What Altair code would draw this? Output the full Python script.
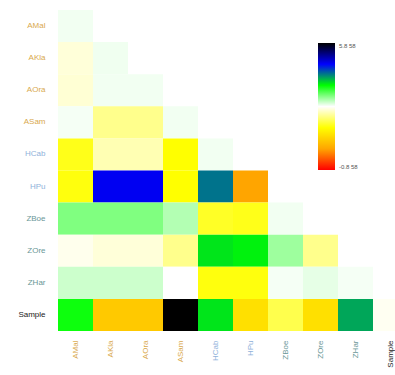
import altair as alt
import pandas as pd

# Taxa / sample names along both axes
labels = ["AMal", "AKla", "AOra", "ASam", "HCab", "HPu", "ZBoe", "ZOre", "ZHar", "Sample"]

# Lower-triangle association scores, one list per row (columns 0..row)
row_amal = [0.05]
row_akla = [-0.15, 0.06]
row_aora = [-0.17, 0.05, 0.05]
row_asam = [0.04, -0.45, -0.45, 0.05]
row_hcab = [-0.9, -0.3, -0.3, -1.0, 0.05]
row_hpu = [-0.95, 2.05, 2.05, -1.0, 1.55, -2.0]
row_zboe = [0.5, 0.5, 0.5, 0.3, -0.85, -0.9, 0.05]
row_zore = [-0.07, -0.15, -0.15, -0.45, 1.1, 1.05, 0.38, -0.45]
row_zhar = [0.2, 0.2, 0.2, 0.0, -0.95, -0.95, 0.04, 0.1, 0.04]
row_sample = [0.95, -1.6, -1.6, 3.0, 1.1, -1.35, -0.7, -1.35, 1.35, -0.05]

rows = [row_amal, row_akla, row_aora, row_asam, row_hcab,
        row_hpu, row_zboe, row_zore, row_zhar, row_sample]

# Colour bar end labels
legend_max_text = "5.8 58"
legend_min_text = "-0.8 58"

records = []
for r, vals in enumerate(rows):
    for c, v in enumerate(vals):
        records.append({"row": labels[r], "col": labels[c], "value": v})
df = pd.DataFrame(records)

stops = [-3, -2, -1, 0, 1, 2, 3]
stop_colors = ["#ff0000", "#ffa500", "#ffff00", "#ffffff", "#00ff00", "#0000ff", "#000000"]

# Label colour by group prefix (A*, H*, Z*, Sample)
prefix = "substring(datum.value, 0, 1)"
label_color = {
    "condition": [
        {"test": f"{prefix} == 'A'", "value": "#d9a94e"},
        {"test": f"{prefix} == 'H'", "value": "#8fb2da"},
        {"test": f"{prefix} == 'Z'", "value": "#6a9797"},
    ],
    "value": "#222222",
}

chart = alt.Chart(df).mark_rect().encode(
    x=alt.X(
        "col:N",
        sort=labels,
        scale=alt.Scale(domain=labels, range=[0, 350], paddingInner=0, paddingOuter=0),
        axis=alt.Axis(
            title=None, labelAngle=270, labelFontSize=8, labelPadding=9,
            ticks=False, domain=False, labelColor=label_color,
            labelFont="Liberation Sans",
        ),
    ),
    y=alt.Y(
        "row:N",
        sort=labels,
        scale=alt.Scale(domain=labels, paddingInner=0, paddingOuter=0),
        axis=alt.Axis(
            title=None, labelFontSize=8, labelPadding=13,
            ticks=False, domain=False, labelColor=label_color,
            labelFont="Liberation Sans",
        ),
    ),
    color=alt.Color(
        "value:Q",
        scale=alt.Scale(domain=stops, range=stop_colors, interpolate="rgb"),
        legend=alt.Legend(
            title=None, orient="none", legendX=260, legendY=33,
            direction="vertical", gradientLength=127, gradientThickness=17,
            gradientStrokeWidth=0, values=[-3, 3],
            labelExpr=f"datum.value > 0 ? '{legend_max_text}' : '{legend_min_text}'",
            labelFontSize=6, labelColor="#555555", labelOffset=4,
            labelFont="Liberation Sans",
        ),
    ),
).properties(
    width=337,
    height=321,
    autosize=alt.AutoSizeParams(type="none"),
    padding={"left": 58, "top": 10, "right": 0, "bottom": 44},
    background="white",
).configure_view(stroke=None)

chart.save("out.html", embed_options={"renderer": "svg", "actions": False})
